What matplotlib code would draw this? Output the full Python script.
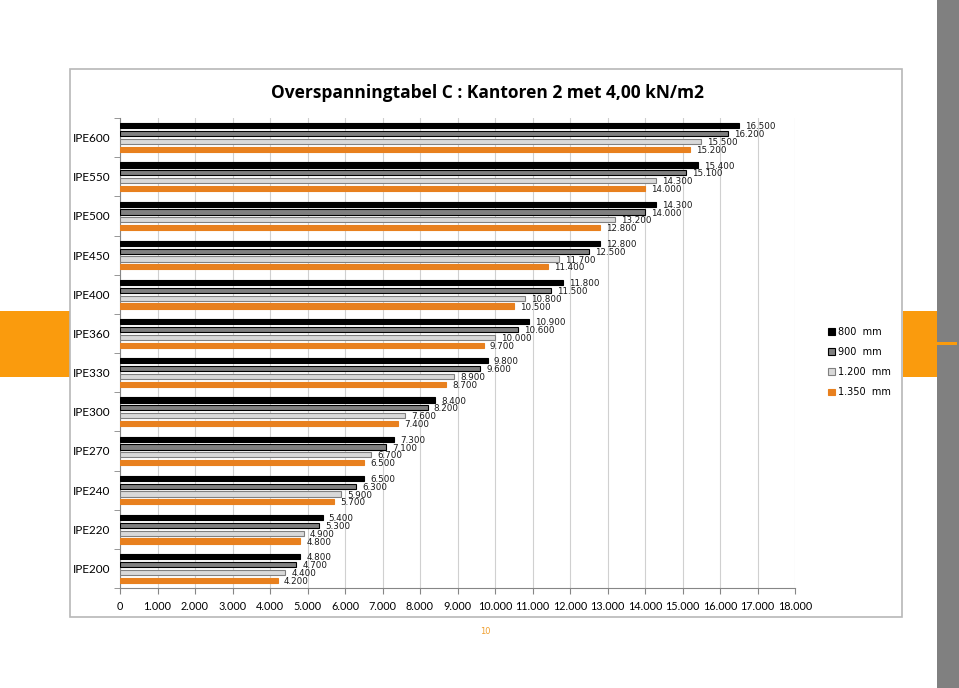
import numpy as np
import matplotlib.pyplot as plt
from matplotlib.patches import Rectangle
from matplotlib.ticker import FuncFormatter, FixedLocator

# Data (overspanning in mm)
profiles = ['IPE600', 'IPE550', 'IPE500', 'IPE450', 'IPE400', 'IPE360',
            'IPE330', 'IPE300', 'IPE270', 'IPE240', 'IPE220', 'IPE200']
span_800 = [16500, 15400, 14300, 12800, 11800, 10900, 9800, 8400, 7300, 6500, 5400, 4800]
span_900 = [16200, 15100, 14000, 12500, 11500, 10600, 9600, 8200, 7100, 6300, 5300, 4700]
span_1200 = [15500, 14300, 13200, 11700, 10800, 10000, 8900, 7600, 6700, 5900, 4900, 4400]
span_1350 = [15200, 14000, 12800, 11400, 10500, 9700, 8700, 7400, 6500, 5700, 4800, 4200]
series_names = ['800  mm', '900  mm', '1.200  mm', '1.350  mm']

def nl(v):
    # Dutch thousands separator
    return f"{int(v):,}".replace(',', '.')

fig = plt.figure(figsize=(9.59, 6.88), dpi=100)
W, H = 959, 688

def px_rect(x0, y0, x1, y1, **kw):
    fig.patches.append(Rectangle((x0 / W, 1 - y1 / H), (x1 - x0) / W, (y1 - y0) / H,
                                 transform=fig.transFigure, zorder=-10, **kw))

# page decoration
px_rect(937, 0, 959, 688, facecolor='#808080', edgecolor='none')
px_rect(0, 311, 70, 377, facecolor='#fa9b0d', edgecolor='none')
px_rect(903, 311, 937, 377, facecolor='#fa9b0d', edgecolor='none')
px_rect(937, 342, 957, 345, facecolor='#fa9b0d', edgecolor='none')
px_rect(70, 69, 902, 617, facecolor='white', edgecolor='#b8b8b8', linewidth=1.2)

ax = fig.add_axes([120 / W, 1 - 588 / H, 675 / W, 470 / H])
ax.patch.set_alpha(0)

y = np.arange(len(profiles))
step = 0.2
bh = 0.135
styles = [
    dict(color='black', edgecolor='black'),
    dict(color='#808080', edgecolor='black'),
    dict(color='#d9d9d9', edgecolor='#808080'),
    dict(color='#e8801e', edgecolor='#e8801e'),
]
all_series = [span_800, span_900, span_1200, span_1350]
for k, (vals, st, name) in enumerate(zip(all_series, styles, series_names)):
    pos = y + (k - 1.5) * step
    ax.barh(pos, vals, height=bh, color=st['color'], edgecolor=st['edgecolor'],
            linewidth=0.8, label=name, zorder=3)
    for p, v in zip(pos, vals):
        ax.annotate(nl(v), (v, p), xytext=(4.5, -0.8), textcoords='offset points',
                    va='center', ha='left', fontsize=6.3, color='#1a1a1a',
                    family='DejaVu Sans')

ax.set_xlim(0, 18000)
ax.set_ylim(len(profiles) - 0.5, -0.5)
ax.set_xticks(np.arange(0, 18001, 1000))
ax.xaxis.set_major_formatter(FuncFormatter(lambda v, p: nl(v)))
ax.set_yticks(y)
ax.set_yticklabels(profiles)
ax.yaxis.set_minor_locator(FixedLocator(np.arange(-0.5, len(profiles), 1)))
ax.tick_params(axis='y', which='major', length=0, pad=7, labelsize=8.5)
ax.tick_params(axis='y', which='minor', length=4, color='#868686', direction='out')
ax.tick_params(axis='x', length=4, color='#868686', pad=5, labelsize=7.8)
for lab in ax.get_xticklabels() + ax.get_yticklabels():
    lab.set_family('Lato')

ax.grid(axis='x', color='#d0d0d0', linewidth=0.8, zorder=0)
ax.set_axisbelow(True)
for s in ['top', 'right']:
    ax.spines[s].set_visible(False)
for s in ['left', 'bottom']:
    ax.spines[s].set_color('#868686')

fig.text(487 / W, 1 - 93 / H, 'Overspanningtabel C : Kantoren 2 met 4,00 kN/m2',
         ha='center', va='center', fontsize=12.5, fontweight='bold', family='Open Sans')

leg = ax.legend(loc='upper left', bbox_to_anchor=(819 / W, 1 - 318 / H),
                bbox_transform=fig.transFigure, frameon=False,
                handlelength=0.7, handleheight=0.7, handletextpad=0.35,
                labelspacing=1.05, prop={'family': 'DejaVu Sans', 'size': 7})

fig.text(485 / W, 1 - 631 / H, '10', ha='center', va='center', fontsize=6,
         color='#f0a030')

fig.savefig('out.png', dpi=100)
